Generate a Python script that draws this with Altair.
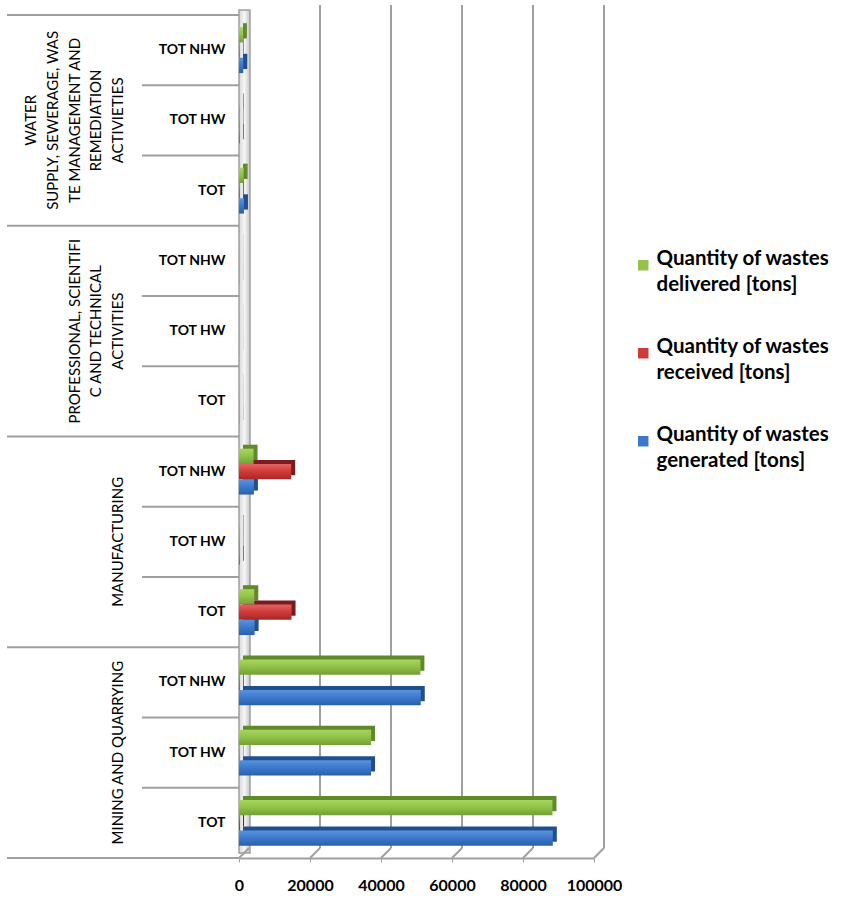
import altair as alt
import pandas as pd

# ---------------- data ----------------
groups = [
    "MINING AND QUARRYING",
    "MANUFACTURING",
    "PROFESSIONAL, SCIENTIFI\nC AND TECHNICAL\nACTIVITIES",
    "WATER\nSUPPLY, SEWERAGE, WAS\nTE MANAGEMENT AND\nREMEDIATION\nACTIVIETIES",
]
subcats = ["TOT", "TOT HW", "TOT NHW"]
series = [
    "Quantity of wastes|delivered  [tons]",
    "Quantity of wastes|received  [tons]",
    "Quantity of wastes|generated [tons]",
]
# order: group (Mining, Manufacturing, Professional, Water) x subcat (TOT, TOT HW, TOT NHW)
generated = [88400, 37200, 51200, 4400, 200, 4200, 60, 30, 40, 1400, 200, 1200]
received = [300, 100, 200, 14800, 100, 14700, 40, 20, 30, 200, 100, 150]
delivered = [88300, 37200, 51100, 4300, 150, 4100, 50, 30, 40, 1300, 200, 1100]
x_ticks = [0, 20000, 40000, 60000, 80000, 100000]

colors = ["#92c24c", "#cc3a3a", "#3b78c9"]
dark = ["#5f8a2a", "#7a1c1c", "#1f4f8f"]
grads = [
    [("#a9d45e", 0), ("#93c44a", 0.45), ("#73a034", 1)],
    [("#e46464", 0), ("#d33d3d", 0.45), ("#a52727", 1)],
    [("#5b93dc", 0), ("#3d7bd0", 0.45), ("#2a5fa8", 1)],
]

# ---------------- tables ----------------
rows = []
for gi, g in enumerate(groups):
    for si, s in enumerate(subcats):
        i = gi * 3 + si
        for ser, vals in zip(series, [delivered, received, generated]):
            rows.append({"key": f"{gi}|{s}", "series": ser, "value": vals[i]})
df = pd.DataFrame(rows)

key_order = [f"{gi}|{s}" for gi in reversed(range(len(groups))) for s in reversed(subcats)]

ysc = alt.Scale(domain=key_order, paddingInner=0, paddingOuter=0)
xsc = alt.Scale(domain=[0, 100000], nice=False, zero=True)

Y = alt.Y(
    "key:N",
    scale=ysc,
    axis=alt.Axis(
        title=None,
        labelExpr="split(datum.label, '|')[1]",
        labelFont="Lato",
        labelFontSize=14,
        labelFontWeight="bold",
        labelColor="black",
        ticks=False,
        domain=False,
        grid=False,
        labelPadding=14,
    ),
)
X = alt.X(
    "value:Q",
    scale=xsc,
    axis=alt.Axis(
        title=None,
        values=x_ticks,
        format="d",
        labelFont="Lato",
        labelFontSize=16,
        labelFontWeight="bold",
        labelColor="black",
        labelPadding=15,
        labelFlush=False,
        tickSize=4,
        tickColor="#a0a0a0",
        domainColor="#a0a0a0",
        domainWidth=2,
        grid=False,
    ),
)

base = alt.Chart(df)

# wall
wall = alt.Chart(pd.DataFrame({"a": [0]})).mark_rect(
    color={
        "gradient": "linear", "x1": 0, "y1": 0, "x2": 1, "y2": 0,
        "stops": [
            {"offset": 0, "color": "#d8d8d8"},
            {"offset": 0.5, "color": "#f6f6f6"},
            {"offset": 1, "color": "#c4c4c4"},
        ],
    },
    stroke="#a0a0a0",
    strokeWidth=1.5,
).encode(x=alt.value(0), x2=alt.value(11), y=alt.value(-5), y2=alt.value(838))

grid_df = pd.DataFrame({"v": x_ticks})
gridlines = alt.Chart(grid_df).transform_filter("datum.v > 0").mark_rule(
    xOffset=10, color="#a0a0a0", strokeWidth=2
).encode(x=alt.X("v:Q", scale=xsc), y=alt.value(-10), y2=alt.value(833))
floor = alt.Chart(grid_df).mark_rule(x2Offset=10, color="#a0a0a0", strokeWidth=2).encode(
    x=alt.X("v:Q", scale=xsc), x2=alt.X2("v:Q"), y=alt.value(843), y2=alt.value(833)
)

# separators
long_keys = pd.DataFrame({"key": [f"{gi}|TOT NHW" for gi in range(len(groups))]})
short_keys = pd.DataFrame({"key": [f"{gi}|{s}" for gi in range(len(groups)) for s in ["TOT", "TOT HW"]]})
bottom_key = pd.DataFrame({"key": ["0|TOT"]})
sep_long = alt.Chart(long_keys).mark_rule(color="#a0a0a0", strokeWidth=2).encode(
    y=alt.Y("key:N", scale=ysc, bandPosition=0), x=alt.value(-232), x2=alt.value(0)
)
sep_bottom = alt.Chart(bottom_key).mark_rule(color="#a0a0a0", strokeWidth=2).encode(
    y=alt.Y("key:N", scale=ysc, bandPosition=1), x=alt.value(-232), x2=alt.value(0)
)
sep_short = alt.Chart(short_keys).mark_rule(color="#a0a0a0", strokeWidth=2).encode(
    y=alt.Y("key:N", scale=ysc, bandPosition=0), x=alt.value(-97), x2=alt.value(0)
)

# group labels (one layer per group so that the last wrapped line sits next to the sub-labels)
LINE_H = 21.7
grp_layers = []
for gi, g in enumerate(groups):
    n_lines = g.count("\n") + 1
    gdf = pd.DataFrame({"key": [f"{gi}|TOT HW"], "label": [g]})
    grp_layers.append(
        alt.Chart(gdf).mark_text(
            angle=270, align="center", baseline="bottom", lineBreak="\n", lineHeight=LINE_H,
            font="Lato", fontSize=15, color="black",
        ).encode(
            y=alt.Y("key:N", scale=ysc),
            x=alt.value(-113 - (n_lines - 1) * LINE_H),
            text="label:N",
        )
    )

# bars
BAR_H = 15.3
offsets = [-BAR_H, 0, BAR_H]
depth_layers = []
front_layers = []
for s, dy, dk, gr in zip(series, offsets, dark, grads):
    sub = base.transform_filter(alt.datum.series == s)
    depth_layers.append(
        sub.mark_bar(height=BAR_H, yOffset=dy - 4, xOffset=4, x2Offset=4, color=dk).encode(x=X, y=Y)
    )
    front_layers.append(
        sub.mark_bar(
            height=BAR_H, yOffset=dy,
            color={
                "gradient": "linear", "x1": 0, "y1": 0, "x2": 0, "y2": 1,
                "stops": [{"offset": o, "color": c} for c, o in gr],
            },
        ).encode(x=X, y=Y)
    )

legend_carrier = base.mark_square(opacity=0).encode(
    x=X,
    y=Y,
    color=alt.Color(
        "series:N",
        scale=alt.Scale(domain=series, range=colors),
        legend=alt.Legend(
            title=None,
            orient="none",
            legendX=394,
            legendY=240,
            padding=0,
            symbolType="square",
            symbolSize=110,
            symbolOpacity=1,
            symbolStrokeWidth=0,
            labelExpr="split(datum.label, '|')",
            labelFont="Lato",
            labelFontSize=20.5,
            labelFontWeight="bold",
            labelColor="black",
            labelLimit=400,
            labelOffset=3,
            labelBaseline="alphabetic",
            rowPadding=41,
        ),
    ),
)

chart = alt.layer(
    wall, gridlines, floor, sep_long, sep_short, sep_bottom, *grp_layers,
    *depth_layers, *front_layers, legend_carrier,
).properties(
    width=355,
    height=843,
    autosize=alt.AutoSizeParams(type="none"),
    padding={"left": 239, "top": 15, "right": 248, "bottom": 40},
).configure(style={"guide-label": {"lineHeight": 26}}).configure_view(stroke=None)

chart.save("out.html", embed_options={"renderer": "svg", "actions": False})
